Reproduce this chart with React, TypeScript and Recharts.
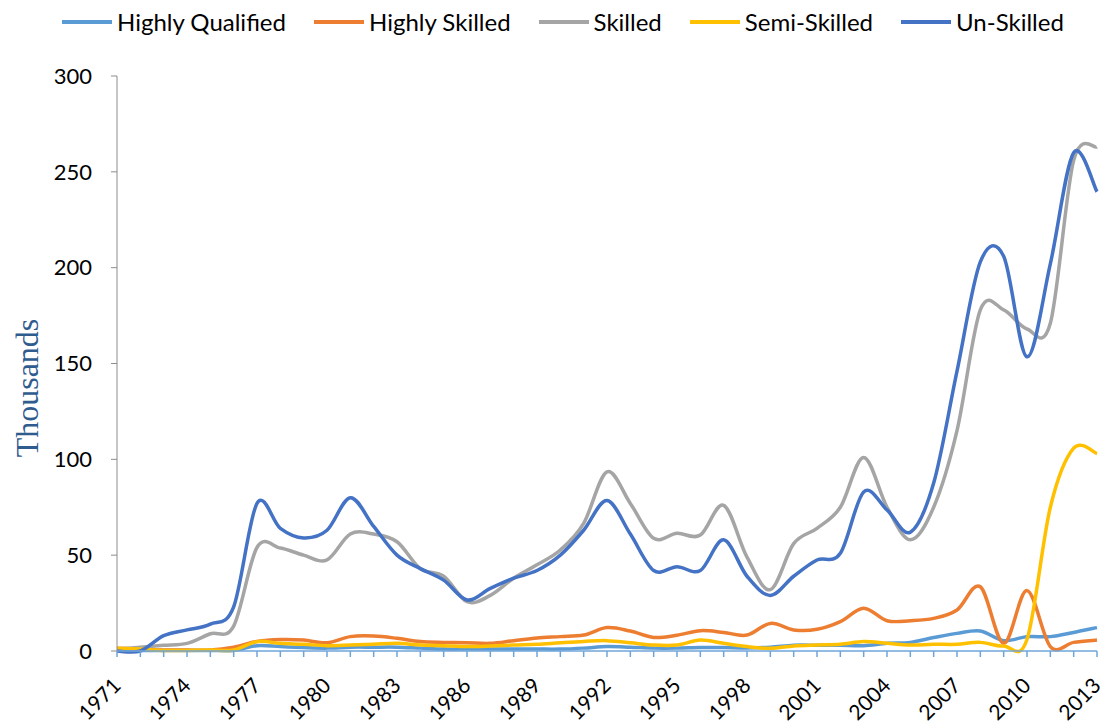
import React from "react";
import { LineChart, Line, XAxis, YAxis } from "recharts";

const years = [
  1971, 1972, 1973, 1974, 1975, 1976, 1977, 1978, 1979, 1980, 1981, 1982, 1983, 1984, 1985,
  1986, 1987, 1988, 1989, 1990, 1991, 1992, 1993, 1994, 1995, 1996, 1997, 1998, 1999, 2000,
  2001, 2002, 2003, 2004, 2005, 2006, 2007, 2008, 2009, 2010, 2011, 2012, 2013,
];

const labelYears = [1971, 1974, 1977, 1980, 1983, 1986, 1989, 1992, 1995, 1998, 2001, 2004, 2007, 2010, 2013];
const yTicks = [0, 50, 100, 150, 200, 250, 300];

const highlyQualified = [
  0.3, 0.3, 0.3, 0.3, 0.3, 0.3, 2.8, 2.3, 1.8, 1.5, 2, 2, 2, 1.5, 1,
  1, 1, 1, 1, 1, 1.5, 2.3, 2, 1.5, 1.5, 1.8, 1.8, 1.6, 2, 3,
  3, 3, 2.8, 4, 4.5, 7, 9.2, 10.4, 5.4, 7.5, 7.5, 9.7, 12.2,
];
const highlySkilled = [
  1.5, 1, 0.5, 0.5, 0.5, 2, 5, 6, 5.7, 4.3, 7.5, 7.8, 6.6, 4.9, 4.5,
  4.3, 4, 5.4, 6.8, 7.5, 8.3, 12.2, 10.4, 7.1, 8.2, 10.6, 9.7, 8.3, 14.4, 11,
  11.3, 15.3, 22.3, 15.8, 15.8, 17, 21.4, 33.5, 4, 31.5, 2.3, 4.5, 5.7,
];
const skilled = [
  1, 2, 3, 4, 9, 13, 54, 53.7, 50, 47.5, 61, 61, 57, 43, 39,
  25.7, 29, 38, 45, 52.7, 66.6, 93.5, 77, 58.8, 61.4, 60.5, 76, 49, 32, 56,
  64, 75, 101, 75, 58, 75, 115, 178, 178, 168, 171, 256, 263,
];
const semiSkilled = [
  1.5, 1, 0.3, 0.3, 0.5, 0.5, 4.9, 4, 3.5, 2.8, 3.1, 3.5, 4, 3.1, 2.8,
  2.3, 2.6, 3.1, 3.5, 4.3, 5, 5.4, 4.3, 3.1, 3.1, 5.7, 4, 2.3, 1.4, 2.6,
  3.1, 3.5, 4.9, 4, 3.1, 3.5, 3.5, 4.5, 2.6, 6, 75, 105.8, 103,
];
const unSkilled = [
  0, 0, 8, 11, 14, 23, 77, 64, 59, 63, 80, 65, 50, 43, 37,
  26.6, 32.7, 38, 42, 50, 63, 78.5, 61, 42, 44, 42, 58, 39, 29, 39,
  47.5, 51, 83, 73.6, 62, 87.6, 146, 203, 206, 153.5, 202, 260, 239.6,
];

const series = [
  { key: "hq", name: "Highly Qualified", color: "#5B9BD5", values: highlyQualified },
  { key: "hs", name: "Highly Skilled", color: "#ED7D31", values: highlySkilled },
  { key: "sk", name: "Skilled", color: "#A5A5A5", values: skilled },
  { key: "ss", name: "Semi-Skilled", color: "#FFC000", values: semiSkilled },
  { key: "us", name: "Un-Skilled", color: "#4472C4", values: unSkilled },
];

const data = years.map((year, i) => {
  const row: Record<string, number> = { year };
  series.forEach((s) => (row[s.key] = s.values[i]));
  return row;
});

// excel-style smoothing (catmull-rom through the points)
function smoothCurve(context: any) {
  let pts: number[][] = [];
  return {
    areaStart() {},
    areaEnd() {},
    lineStart() {
      pts = [];
    },
    point(x: number, y: number) {
      pts.push([+x, +y]);
    },
    lineEnd() {
      const n = pts.length;
      if (!n) return;
      context.moveTo(pts[0][0], pts[0][1]);
      for (let i = 0; i < n - 1; i++) {
        const p0 = pts[i - 1] || pts[i];
        const p1 = pts[i];
        const p2 = pts[i + 1];
        const p3 = pts[i + 2] || pts[i + 1];
        context.bezierCurveTo(
          p1[0] + (p2[0] - p0[0]) / 6,
          p1[1] + (p2[1] - p0[1]) / 6,
          p2[0] - (p3[0] - p1[0]) / 6,
          p2[1] - (p3[1] - p1[1]) / 6,
          p2[0],
          p2[1]
        );
      }
    },
  };
}

const font = "Lato, 'Open Sans', sans-serif";

function YearTick({ x, y, payload }: any) {
  if (!labelYears.includes(payload.value)) return null;
  const ax = x + 5;
  const ay = y + 28;
  return (
    <text
      x={ax}
      y={ay}
      transform={`rotate(-45, ${ax}, ${ay})`}
      textAnchor="end"
      fontSize={21}
      fontFamily={font}
      fill="#000"
    >
      {payload.value}
    </text>
  );
}

function YLabel({ viewBox }: any) {
  const cx = viewBox.x + 27;
  const cy = 388;
  return (
    <text
      x={cx}
      y={cy}
      transform={`rotate(-90, ${cx}, ${cy})`}
      textAnchor="middle"
      dominantBaseline="central"
      fontSize={32}
      fontFamily="'Liberation Serif', serif"
      fill="#2F5C8F"
    >
      Thousands
    </text>
  );
}

export default function App() {
  return (
    <div style={{ position: "relative", width: 1104, height: 724, background: "#fff" }}>
      <style>{"body{margin:0}"}</style>
      <div
        style={{
          position: "absolute",
          top: 4,
          left: 62,
          display: "flex",
          gap: 28,
          fontFamily: font,
          fontSize: 24,
          lineHeight: "36px",
          color: "#000",
          whiteSpace: "nowrap",
        }}
      >
        {series.map((s) => (
          <div key={s.key} style={{ display: "flex", alignItems: "center" }}>
            <span style={{ display: "inline-block", width: 50, height: 4, background: s.color, marginRight: 5 }} />
            <span>{s.name}</span>
          </div>
        ))}
      </div>
      <LineChart width={1104} height={724} data={data} margin={{ top: 76, right: 7, left: 0, bottom: 0 }}>
        <XAxis
          dataKey="year"
          type="category"
          height={73}
          interval={0}
          stroke="#70A4D8"
          strokeWidth={1.5}
          tickSize={6}
          tick={<YearTick />}
        />
        <YAxis
          width={117}
          domain={[0, 300]}
          ticks={yTicks}
          stroke="#8C8C8C"
          tickSize={6}
          tickMargin={19}
          tick={{ fontSize: 22, fontFamily: font, fill: "#000" }}
          label={<YLabel />}
        />
        {series.map((s) => (
          <Line
            key={s.key}
            dataKey={s.key}
            name={s.name}
            type={smoothCurve as any}
            stroke={s.color}
            strokeWidth={3.5}
            dot={false}
            isAnimationActive={false}
          />
        ))}
      </LineChart>
    </div>
  );
}
